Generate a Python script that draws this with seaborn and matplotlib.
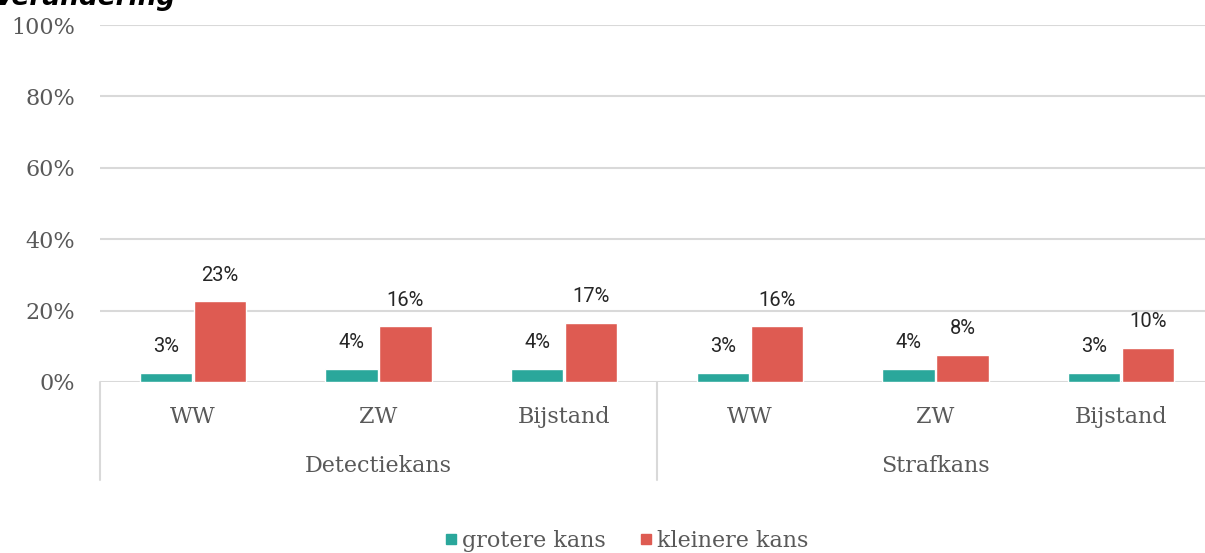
import pandas as pd
import numpy as np
import seaborn as sns
import matplotlib.pyplot as plt
from matplotlib.lines import Line2D

# data
groups = ['Detectiekans', 'Strafkans']
regelingen = ['WW', 'ZW', 'Bijstand']
series = ['grotere kans', 'kleinere kans']
grotere = [2.6, 3.6, 3.6, 2.6, 3.6, 2.6]
kleinere = [22.6, 15.6, 16.6, 15.6, 7.6, 9.6]
yticks = [0, 20, 40, 60, 80, 100]

keys = [g + ' ' + r for g in groups for r in regelingen]
df = pd.DataFrame({
    'cat': keys * 2,
    'kans': [series[0]] * 6 + [series[1]] * 6,
    'value': grotere + kleinere,
})

colors = ['#2aa79b', '#de5b52']
grey = '#595959'
gridc = '#d9d9d9'

sns.set_style('white')
plt.rcParams['font.family'] = ['DejaVu Serif']

W, H = 1205, 553
fig = plt.figure(figsize=(W / 100, H / 100), dpi=100)
ax = fig.add_axes([100 / W, (H - 382) / H, 1114 / W, 357 / H])

sns.barplot(data=df, x='cat', y='value', hue='kans', order=keys,
            hue_order=series, palette=colors, width=0.58, gap=0.03,
            ax=ax, saturation=1, legend=False)

for cont in ax.containers:
    ax.bar_label(cont, labels=[f'{b.get_height():.0f}%' for b in cont],
                 padding=12, fontsize=14.5, color='#262626', family='Roboto')

ax.set_xlim(-0.5, 5.5)
ax.set_ylim(0, 100)
ax.set_yticks(yticks)
ax.set_yticklabels([f'{t}%' for t in yticks], fontsize=16, color=grey)
ax.tick_params(axis='y', length=0, pad=18)
ax.set_xticks(range(6))
ax.set_xticklabels(regelingen * 2, fontsize=16, color=grey)
ax.tick_params(axis='x', length=0, pad=17)
ax.set_xlabel('')
ax.set_ylabel('')
ax.grid(axis='y', color=gridc, linewidth=1.5)
ax.set_axisbelow(True)
for s in ax.spines.values():
    s.set_visible(False)

trans = ax.get_xaxis_transform()
for i, g in enumerate(groups):
    ax.text(1 + 3 * i, -0.235, g, transform=trans, ha='center', va='center',
            fontsize=16, color=grey)
for xs in [-0.5, 2.5, 5.5]:
    ax.plot([xs, xs], [0, -0.275], transform=trans, color=gridc,
            linewidth=1.5, clip_on=False)

handles = [Line2D([], [], marker='s', linestyle='', markersize=7,
                  color=c) for c in colors]
fig.legend(handles, series, loc='center', bbox_to_anchor=(625 / W, 1 - 541 / H),
           ncol=2, frameon=False, fontsize=16, labelcolor=grey,
           handletextpad=0.1, columnspacing=1.4, handlelength=0.8)

fig.text(-6 / W, 1 - 5 / H, 'Verandering', fontsize=19, fontweight='bold',
         fontstyle='italic', family='DejaVu Sans', va='baseline', color='black')

fig.savefig('out.png', dpi=100)
